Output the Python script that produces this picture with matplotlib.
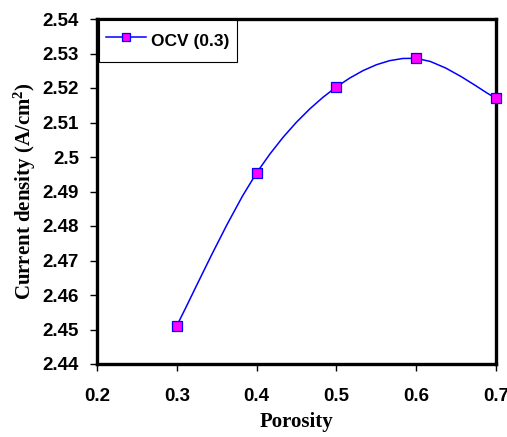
import matplotlib
matplotlib.use("Agg")
import matplotlib.pyplot as plt
import numpy as np

plt.rcParams["mathtext.default"] = "regular"

# data
porosity = [0.3, 0.4, 0.5, 0.6, 0.7]
current = [2.4511, 2.4954, 2.5203, 2.5286, 2.5170]
series_name = "OCV (0.3)"

x_ticks = [0.2, 0.3, 0.4, 0.5, 0.6, 0.7]
y_ticks = [2.44, 2.45, 2.46, 2.47, 2.48, 2.49, 2.5, 2.51, 2.52, 2.53, 2.54]
y_ticklabels = ["2.44", "2.45", "2.46", "2.47", "2.48", "2.49", "2.5",
                "2.51", "2.52", "2.53", "2.54"]


def smooth(xs, ys, n=7):
    # Excel-style smoothed line: Bezier segments with Catmull-Rom control points
    p = np.column_stack([xs, ys]).astype(float)
    out = [p[0]]
    for i in range(len(p) - 1):
        p0 = p[i - 1] if i > 0 else p[i]
        p1 = p[i]
        p2 = p[i + 1]
        p3 = p[i + 2] if i + 2 < len(p) else p[i + 1]
        c1 = p1 + (p2 - p0) / 6.0
        c2 = p2 - (p3 - p1) / 6.0
        t = np.linspace(0, 1, n)[1:, None]
        seg = ((1 - t) ** 3) * p1 + 3 * ((1 - t) ** 2) * t * c1 \
            + 3 * (1 - t) * t ** 2 * c2 + t ** 3 * p2
        out.extend(seg)
    out = np.array(out)
    return out[:, 0], out[:, 1]


fig = plt.figure(figsize=(5.07, 4.37), dpi=100)
ax = fig.add_axes([97 / 507, 1 - 364 / 437, 399 / 507, 345 / 437])

sx, sy = smooth(porosity, current)
ax.plot(sx, sy, color="#0000ff", lw=1.1, zorder=2)
ax.plot(porosity, current, ls="none", marker="s", ms=6.5, mfc="#ff00ff",
        mec="#0000ff", mew=0.9, zorder=3, clip_on=False)
# legend proxy with line + marker
ax.plot([], [], color="#0000ff", lw=1.1, marker="s", ms=6, mfc="#ff00ff",
        mec="#0000ff", mew=0.9, label=series_name)

ax.set_xlim(0.2, 0.7)
ax.set_ylim(2.44, 2.54)
ax.set_xticks(x_ticks)
ax.set_xticklabels([str(v) for v in x_ticks])
ax.set_yticks(y_ticks)
ax.set_yticklabels(y_ticklabels)

for s in ax.spines.values():
    s.set_linewidth(2.4)
ax.tick_params(direction="out", length=5, width=1)
for lab in ax.get_xticklabels() + ax.get_yticklabels():
    lab.set_fontfamily("Liberation Sans")
    lab.set_fontweight("bold")
    lab.set_fontsize(13.5)
ax.tick_params(axis="x", pad=12.5)
ax.tick_params(axis="y", pad=8)

ax.set_xlabel("Porosity", family="Liberation Serif", weight="bold",
              fontsize=15, labelpad=5)
ax.set_ylabel("Current density (A/cm$^2$)", family="Liberation Serif",
              weight="bold", fontsize=15, labelpad=3)

leg = ax.legend(loc="upper left", bbox_to_anchor=(0.006, 0.997),
                prop={"family": "Liberation Sans", "weight": "bold", "size": 12.5},
                fancybox=False, framealpha=1, edgecolor="black",
                handlelength=2.3, handletextpad=0.3, handleheight=2.1,
                borderpad=0.4, borderaxespad=0)
leg.get_frame().set_linewidth(0.8)

fig.savefig("out.png", dpi=100)
